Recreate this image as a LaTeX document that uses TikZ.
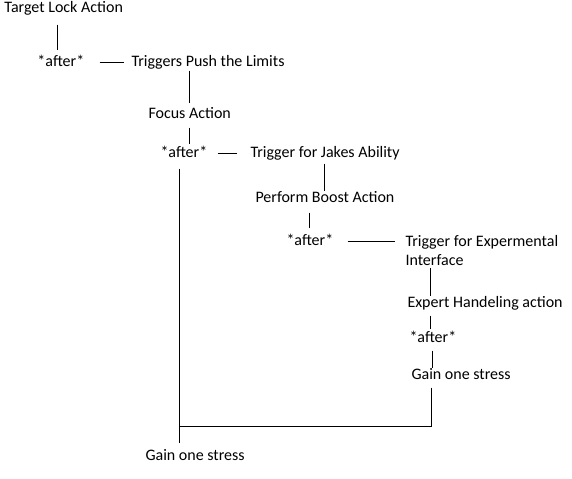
\documentclass[tikz,border=0pt]{standalone}
\usepackage{fontspec}
\setmainfont{Carlito}
\begin{document}
\begin{tikzpicture}[x=0.75pt,y=-0.75pt,line width=0.75pt,
  txt/.style={font=\fontsize{12}{14.25}\selectfont, inner sep=0pt, anchor=west},
  lbl/.style={txt, text height=8.5pt, text depth=1.5pt}]
  \useasboundingbox (0,0) rectangle (572,479);
  % steps
  \node[lbl] (target) at (4,8) {Target Lock Action};
  \node[lbl] (after1) at (37,62) {*after*};
  \node[lbl] (push) at (131,62) {Triggers Push the Limits};
  \node[lbl] (focus) at (148,114) {Focus Action};
  \node[lbl] (after2) at (160,153) {*after*};
  \node[lbl] (jakes) at (250,153) {Trigger for Jakes Ability};
  \node[lbl] (boost) at (255,198) {Perform Boost Action};
  \node[lbl] (after3) at (286,241) {*after*};
  \node[txt, anchor=north west, align=left] (iface) at (405,235) {Trigger for Expermental\\Interface};
  \node[lbl] (expert) at (407,303) {Expert Handeling action};
  \node[lbl] (after4) at (409,338) {*after*};
  \node[lbl] (gain1) at (411,375) {Gain one stress};
  \node[lbl] (gain2) at (145,456) {Gain one stress};
  \coordinate (down) at ([xshift=-3pt]after2.south);
  \coordinate (join) at (down |- 0,426);
  % connectors
  \draw[shorten <=7pt, shorten >=4pt] ([xshift=-2.25pt]after1.north |- target.south) -- ([xshift=-2.25pt]after1.north);
  \draw[shorten <=11.25pt, shorten >=5.25pt] (after1.east) -- (push.west);
  \draw[shorten <=1pt, shorten >=3.25pt] (focus.north |- push.south) -- (focus.north);
  \draw[shorten <=4.75pt, shorten >=1.75pt] (focus.south) -- (focus.south |- after2.north);
  \draw[shorten <=7.5pt, shorten >=9.75pt] (after2.east) -- (jakes.west);
  \draw[shorten <=2.5pt, shorten >=0.25pt] (boost.north |- jakes.south) -- (boost.north);
  \draw[shorten <=5.5pt, shorten >=4.75pt] (after3.north |- boost.south) -- (after3.north);
  \draw[shorten <=10.5pt, shorten >=7.5pt] (after3.east) -- (after3.east -| iface.west);
  \draw[shorten <=1.5pt] ([xshift=-1.5pt]after4.north |- iface.south) -- ([xshift=-1.5pt]after4.north |- expert.north);
  \draw[shorten <=4pt, shorten >=1.75pt] ([xshift=-1.5pt]after4.north |- expert.south) -- ([xshift=-1.5pt]after4.north);
  \draw[shorten <=4pt] (after4.south) -- (after4.south |- gain1.north);
  \draw[shorten <=4pt] ([xshift=-0.75pt]gain1.south -| after4.south) |- (join);
  \draw[shorten <=6.25pt, shorten >=4.75pt] (down) -- (down |- gain2.north);
\end{tikzpicture}
\end{document}
